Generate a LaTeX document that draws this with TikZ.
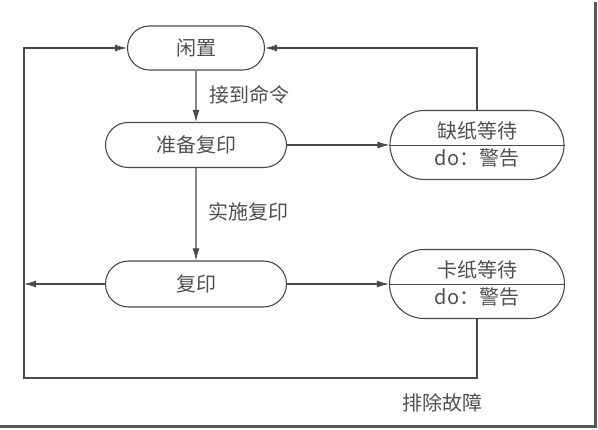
\documentclass[tikz,border=0pt]{standalone}
\usepackage{fontspec}
\setmainfont{Noto Sans CJK SC}
\usepackage{xcolor}
\usetikzlibrary{shapes,arrows.meta,positioning,calc}

\definecolor{linegray}{HTML}{4A4A4A}
\definecolor{textgray}{HTML}{505050}

\begin{document}
\begin{tikzpicture}[x=1pt,y=-1pt,
    font=\fontsize{20}{24}\selectfont,
    state/.style={draw=linegray, line width=1.1pt, rounded rectangle, inner sep=0pt,
        minimum width=181pt, minimum height=45pt, text=textgray},
    waitbox/.style={state, minimum width=174pt, minimum height=69pt},
    lbl/.style={text=textgray, inner sep=0pt},
    flow/.style={draw=linegray, line width=1.1pt, -{Latex[length=12pt,width=7pt]}}]
    \useasboundingbox (0,0) rectangle (598,430);
    \fill[white] (0,0) rectangle (598,430);
    % states
    \node[state, minimum width=137pt, minimum height=44pt] (idle) at (196,48) {闲置};
    \node[state] (prep) at (196,145) {准备复印};
    \node[state, minimum height=46pt] (copy) at (196,284) {复印};
    \node[waitbox] (nopaper) at (477,145) {};
    \node[waitbox, minimum width=175pt] (jam) at (477,284) {};
    \draw[linegray, line width=0.9pt] (nopaper.west) -- (nopaper.east);
    \draw[linegray, line width=0.9pt] (jam.west) -- (jam.east);
    \node[lbl] (nopaper1) at (477,131) {缺纸等待};
    \node[lbl] (nopaper2) at (477,158) {do：警告};
    \node[lbl] (jam1) at (477,270) {卡纸等待};
    \node[lbl] (jam2) at (477,297) {do：警告};
    % labels
    \node[lbl] (cmd) at (249,95) {接到命令};
    \node[lbl] (start) at (248,212) {实施复印};
    \node[lbl] (fix) at (442,403) {排除故障};
    \coordinate (corner) at (24,378);
    % transitions
    \draw[flow] (idle) -- (prep);
    \draw[flow] (prep) -- (copy);
    \draw[flow] (prep.east) -- (nopaper.west);
    \draw[flow] (copy.east) -- (jam.west);
    \draw[flow] (nopaper.north) |- (idle.east);
    \draw[flow] (jam.south) |- (corner) |- (idle.west);
    \draw[flow] (copy.west) -- (copy.west -| corner);
    % frame shadow
    \draw[line width=3pt, color=black!65] (595,2) -- (595,427) -- (0,427);
\end{tikzpicture}
\end{document}
